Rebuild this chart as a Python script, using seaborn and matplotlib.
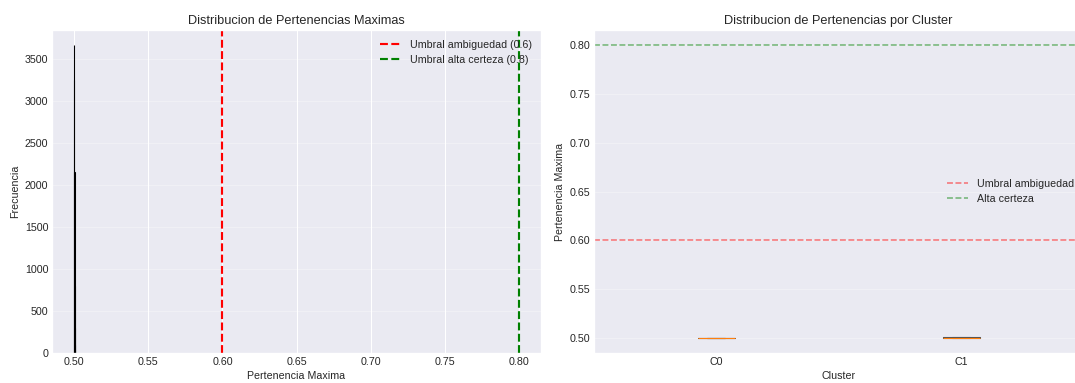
import matplotlib
matplotlib.use("Agg")
import matplotlib.pyplot as plt
import seaborn as sns
import pandas as pd

# ---- data ----
hist_centers = [0.50000, 0.50008, 0.50016, 0.50024, 0.50032, 0.50040, 0.50048]
hist_counts = [3660, 3250, 2150, 800, 300, 100, 30]
hist_edges = [0.49996, 0.50004, 0.50012, 0.50020, 0.50028, 0.50036, 0.50044, 0.50052]

clusters = ["C0", "C1"]
c0_values = [0.50000, 0.50001, 0.50002, 0.50003, 0.50004, 0.50005, 0.50006, 0.50008]
c1_values = [0.50000, 0.50020, 0.50035, 0.50050, 0.50065, 0.50080, 0.50095, 0.50120]

thr_ambig = 0.6
thr_cert = 0.8

# ---- style ----
sns.set_theme(style="darkgrid")
plt.rcParams["font.family"] = ["Liberation Sans", "DejaVu Sans"]
plt.rcParams.update({
    "axes.titlesize": 12,
    "axes.labelsize": 10,
    "xtick.labelsize": 10,
    "ytick.labelsize": 10,
    "legend.fontsize": 10,
    "legend.frameon": False,
    "xtick.major.size": 0,
    "ytick.major.size": 0,
    "xtick.major.pad": 3.5,
    "ytick.major.pad": 3.5,
    "axes.labelpad": 4,
})

fig = plt.figure(figsize=(14, 383 / 76.8), dpi=76.8)
ax1 = fig.add_axes([52 / 1075, 30 / 383, 489 / 1075, 323 / 383])
ax2 = fig.add_axes([593.5 / 1075, 30 / 383, 490 / 1075, 323 / 383])

# Left: histogram
sns.histplot(x=hist_centers, weights=hist_counts, bins=hist_edges,
             color="skyblue", edgecolor="black", alpha=0.7, ax=ax1)
ax1.axvline(thr_ambig, color="red", linestyle="--", linewidth=2,
            label=f"Umbral ambiguedad ({thr_ambig})")
ax1.axvline(thr_cert, color="green", linestyle="--", linewidth=2,
            label=f"Umbral alta certeza ({thr_cert})")
ax1.set_xlabel("Pertenencia Maxima")
ax1.set_ylabel("Frecuencia")
ax1.set_title("Distribucion de Pertenencias Maximas")
ax1.legend(loc="upper right")
ax1.grid(axis="y", alpha=0.3)

# Right: boxplot
df = pd.DataFrame({
    "Cluster": [clusters[0]] * len(c0_values) + [clusters[1]] * len(c1_values),
    "Pertenencia": c0_values + c1_values,
})
sns.boxplot(data=df, x="Cluster", y="Pertenencia", order=clusters, width=0.15,
            fill=False, color="#555555", linewidth=1,
            medianprops={"color": "#ff7f0e", "linewidth": 1}, ax=ax2)
ax2.axhline(thr_ambig, color="red", linestyle="--", alpha=0.5, linewidth=1.5,
            label="Umbral ambiguedad")
ax2.axhline(thr_cert, color="green", linestyle="--", alpha=0.5, linewidth=1.5,
            label="Alta certeza")
ax2.set_xlim(-0.5, 1.5)
ax2.set_ylim(0.485, 0.815)
ax2.set_xlabel("Cluster")
ax2.set_ylabel("Pertenencia Maxima")
ax2.set_title("Distribucion de Pertenencias por Cluster")
ax2.legend(loc="center right")
ax2.grid(axis="y", alpha=0.3)

fig.savefig("out.png", dpi=76.8)
